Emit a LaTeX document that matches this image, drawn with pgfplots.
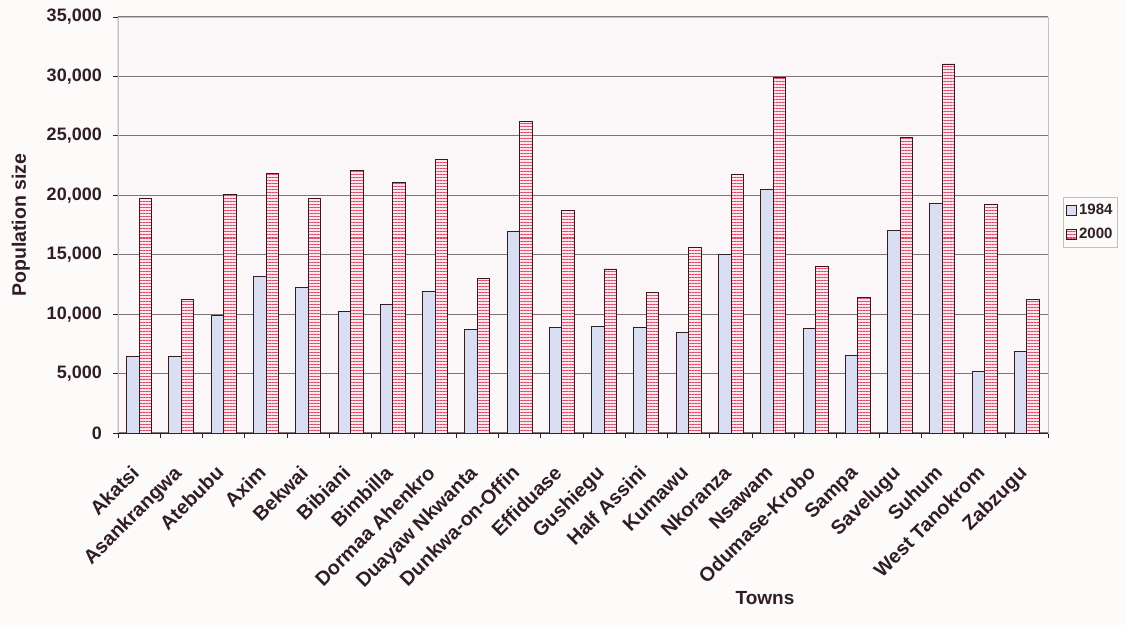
\documentclass[border=0pt]{standalone}
\usepackage{pgfplots}
\pgfplotsset{compat=1.18}
\usepackage{pgfplotstable}
\usepackage{fontspec}
\setmainfont{Liberation Sans}
\usetikzlibrary{patterns.meta}

\definecolor{pagebg}{RGB}{253,250,250}
\definecolor{plotbg}{RGB}{251,246,248}
\definecolor{ink}{RGB}{48,30,36}
\definecolor{gridc}{RGB}{128,116,120}
\definecolor{framec}{RGB}{200,190,194}
\definecolor{fillA}{RGB}{218,222,242}
\definecolor{fillB}{RGB}{252,230,236}
\definecolor{stripeB}{RGB}{222,70,100}
\definecolor{edgeB}{RGB}{60,22,32}

% small square swatch for the legend
\pgfplotsset{sqlegend/.style={legend image code/.code={\draw[##1] (0pt,-5pt) rectangle (10pt,5pt);}}}

% Population of 22 towns, census years 1984 and 2000
\pgfplotstableread{
idx  p1984  p2000
0    6450   19700
1    6450   11200
2    9900   20100
3    13150  21850
4    12250  19750
5    10250  22080
6    10850  21050
7    11900  23000
8    8750   13000
9    16950  26250
10   8900   18750
11   9000   13800
12   8850   11800
13   8480   15650
14   15050  21750
15   20450  29950
16   8800   14000
17   6500   11400
18   17000  24900
19   19300  31050
20   5150   19200
21   6880   11250
}\towns

\begin{document}
\begin{tikzpicture}
\useasboundingbox (-118pt,-192pt) rectangle (1009pt,433pt);
\fill[pagebg] (-118pt,-192pt) rectangle (1009pt,433pt);
\begin{axis}[
  at={(0pt,0pt)}, anchor=south west,
  scale only axis, width=930pt, height=416pt,
  ybar=0pt, bar width=12.5pt,
  xmin=-0.5, xmax=21.5, ymin=0, ymax=35000,
  axis background/.style={fill=plotbg},
  axis line style={draw=framec, line width=0.8pt},
  ytick={0,5000,...,35000},
  scaled y ticks=false,
  /pgf/number format/1000 sep={,},
  /pgf/number format/assume math mode=true,
  xtick={0,...,21},
  xticklabels={Akatsi,Asankrangwa,Atebubu,Axim,Bekwai,Bibiani,Bimbilla,
    Dormaa Ahenkro,Duayaw Nkwanta,Dunkwa-on-Offin,Effiduase,Gushiegu,
    Half Assini,Kumawu,Nkoranza,Nsawam,Odumase-Krobo,Sampa,Savelugu,
    Suhum,West Tanokrom,Zabzugu},
  major x tick style={draw=none},
  minor xtick={-0.5,0.5,...,21.5},
  tick align=outside, tick pos=left,
  major tick length=5pt, minor tick length=5pt,
  tick style={ink, line width=0.8pt},
  ymajorgrids, grid style={gridc, line width=1.1pt},
  yticklabel style={font=\bfseries\fontsize{18}{18}\selectfont, text=ink,
    anchor=east, inner sep=0pt, xshift=-11pt},
  xticklabel style={font=\bfseries\fontsize{19.8}{19.8}\selectfont, text=ink,
    inner sep=0pt, xshift=-9pt, yshift=-26pt, rotate=45, anchor=north east},
  xlabel={Towns}, ylabel={Population size},
  xlabel style={font=\bfseries\fontsize{19}{19}\selectfont, text=ink,
    at={(axis description cs:0.6957,-0.3966)}, anchor=center},
  ylabel style={font=\bfseries\fontsize{19.5}{19.5}\selectfont, text=ink,
    at={(axis description cs:-0.1045,0.5)}, anchor=center},
  legend style={at={(axis description cs:1.0161,0.567)}, anchor=north west,
    draw=framec, fill=pagebg, font=\bfseries\fontsize{15}{15}\selectfont,
    text=ink, inner xsep=3pt, inner ysep=5pt, row sep=8pt,
    cells={anchor=west}},
]
\addplot[draw=ink, line width=0.9pt, fill=fillA, sqlegend]
  table[x=idx, y=p1984] {\towns};
\addplot[draw=edgeB, line width=0.9pt, preaction={fill=fillB},
  pattern={Lines[angle=0, distance=3pt, line width=1pt]}, pattern color=stripeB,
  sqlegend]
  table[x=idx, y=p2000] {\towns};
\legend{1984,2000}
\draw[ink, line width=1pt] (rel axis cs:0,1) -- (rel axis cs:0,0) -- (rel axis cs:1,0);
\end{axis}
\end{tikzpicture}
\end{document}
